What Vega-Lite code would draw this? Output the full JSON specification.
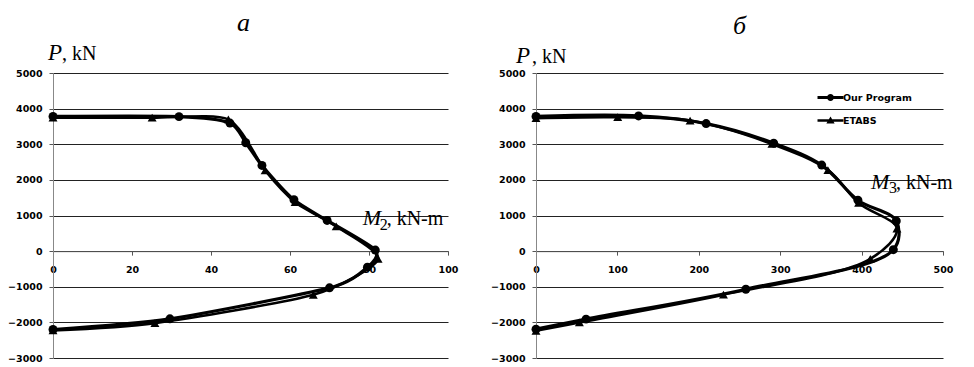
{
  "$schema": "https://vega.github.io/schema/vega-lite/v6.json",
  "background": "white",
  "padding": {"left": 7, "top": 10, "right": 5, "bottom": 5},
  "spacing": 88,
  "bounds": "flush",
  "datasets": {
    "a": [
      {"series": "Our Program", "i": 1, "M": 0, "P": 3780},
      {"series": "Our Program", "i": 2, "M": 31.9, "P": 3775},
      {"series": "Our Program", "i": 3, "M": 44.8, "P": 3595},
      {"series": "Our Program", "i": 4, "M": 48.8, "P": 3043},
      {"series": "Our Program", "i": 5, "M": 52.9, "P": 2406},
      {"series": "Our Program", "i": 6, "M": 61.0, "P": 1442},
      {"series": "Our Program", "i": 7, "M": 69.4, "P": 861},
      {"series": "Our Program", "i": 8, "M": 81.6, "P": 30},
      {"series": "Our Program", "i": 9, "M": 79.6, "P": -450},
      {"series": "Our Program", "i": 10, "M": 70.0, "P": -1030},
      {"series": "Our Program", "i": 11, "M": 29.6, "P": -1900},
      {"series": "Our Program", "i": 12, "M": 0, "P": -2200},
      {"series": "ETABS", "i": 1, "M": 0, "P": 3745},
      {"series": "ETABS", "i": 2, "M": 25.1, "P": 3745},
      {"series": "ETABS", "i": 3, "M": 44.4, "P": 3698},
      {"series": "ETABS", "i": 4, "M": 53.7, "P": 2266},
      {"series": "ETABS", "i": 5, "M": 61.3, "P": 1376},
      {"series": "ETABS", "i": 6, "M": 71.7, "P": 693},
      {"series": "ETABS", "i": 7, "M": 82.3, "P": -220},
      {"series": "ETABS", "i": 8, "M": 65.9, "P": -1226},
      {"series": "ETABS", "i": 9, "M": 25.8, "P": -2022},
      {"series": "ETABS", "i": 10, "M": 0, "P": -2228}
    ],
    "b": [
      {"series": "Our Program", "i": 1, "M": 0, "P": 3780},
      {"series": "Our Program", "i": 2, "M": 126, "P": 3795},
      {"series": "Our Program", "i": 3, "M": 209, "P": 3580},
      {"series": "Our Program", "i": 4, "M": 292, "P": 3030},
      {"series": "Our Program", "i": 5, "M": 351, "P": 2415},
      {"series": "Our Program", "i": 6, "M": 395.5, "P": 1430},
      {"series": "Our Program", "i": 7, "M": 442.6, "P": 846},
      {"series": "Our Program", "i": 8, "M": 439, "P": 40},
      {"series": "Our Program", "i": 9, "M": 257.8, "P": -1070},
      {"series": "Our Program", "i": 10, "M": 61.5, "P": -1908},
      {"series": "Our Program", "i": 11, "M": 0, "P": -2190},
      {"series": "ETABS", "i": 1, "M": 0, "P": 3731},
      {"series": "ETABS", "i": 2, "M": 100.4, "P": 3759},
      {"series": "ETABS", "i": 3, "M": 189.3, "P": 3665},
      {"series": "ETABS", "i": 4, "M": 289.8, "P": 3007},
      {"series": "ETABS", "i": 5, "M": 358.6, "P": 2274},
      {"series": "ETABS", "i": 6, "M": 396.3, "P": 1353},
      {"series": "ETABS", "i": 7, "M": 443.4, "P": 630},
      {"series": "ETABS", "i": 8, "M": 410.7, "P": -216},
      {"series": "ETABS", "i": 9, "M": 230.3, "P": -1222},
      {"series": "ETABS", "i": 10, "M": 53.3, "P": -2002},
      {"series": "ETABS", "i": 11, "M": 0, "P": -2237}
    ]
  },
  "hconcat": [
    {
      "width": 395,
      "height": 285,
      "title": {"text": "а", "font": "Liberation Serif", "fontStyle": "italic", "fontWeight": "normal", "fontSize": 26, "color": "black", "offset": 6, "dx": -7},
      "data": {"name": "a"},
      "layer": [
        {
          "transform": [{"filter": "datum.series === 'Our Program'"}],
          "mark": {"type": "line", "interpolate": "cardinal", "tension": 0.3, "color": "black", "strokeWidth": 3.2},
          "encoding": {
            "x": {"field": "M", "type": "quantitative", "scale": {"domain": [0, 100], "nice": false}, "title": null},
            "y": {"field": "P", "type": "quantitative", "scale": {"domain": [-3000, 5000], "nice": false}, "title": null},
            "order": {"field": "i"}
          }
        },
        {
          "transform": [{"filter": "datum.series === 'ETABS'"}],
          "mark": {"type": "line", "interpolate": "cardinal", "tension": 0.3, "color": "black", "strokeWidth": 2.6},
          "encoding": {
            "x": {"field": "M", "type": "quantitative", "title": null},
            "y": {"field": "P", "type": "quantitative", "title": null},
            "order": {"field": "i"}
          }
        },
        {
          "mark": {"type": "point", "filled": true, "color": "black", "opacity": 1},
          "encoding": {
            "x": {"field": "M", "type": "quantitative", "title": null},
            "y": {"field": "P", "type": "quantitative", "title": null},
            "shape": {"field": "series", "type": "nominal", "scale": {"domain": ["Our Program", "ETABS"], "range": ["circle", "triangle-up"]}, "legend": null},
            "size": {"value": 80}
          }
        },
        {
          "data": {"values": [{}]},
          "layer": [
            {"mark": {"type": "text", "text": "P", "font": "Liberation Serif", "fontStyle": "italic", "fontSize": 23, "align": "left", "baseline": "alphabetic", "dx": -5, "dy": -13, "color": "black"},
             "encoding": {"x": {"datum": 0, "type": "quantitative", "title": null}, "y": {"datum": 5000, "type": "quantitative", "title": null}}},
            {"mark": {"type": "text", "text": ", kN", "font": "Liberation Serif", "fontSize": 20, "align": "left", "baseline": "alphabetic", "dx": 9, "dy": -13, "color": "black"},
             "encoding": {"x": {"datum": 0, "type": "quantitative", "title": null}, "y": {"datum": 5000, "type": "quantitative", "title": null}}},
            {"mark": {"type": "text", "text": "M", "font": "Liberation Serif", "fontStyle": "italic", "fontSize": 22, "align": "left", "baseline": "alphabetic", "color": "black"},
             "encoding": {"x": {"datum": 78.4, "type": "quantitative", "title": null}, "y": {"datum": 740, "type": "quantitative", "title": null}}},
            {"mark": {"type": "text", "text": "2", "font": "Liberation Serif", "fontSize": 16, "align": "left", "baseline": "alphabetic", "dx": 17, "dy": 5, "color": "black"},
             "encoding": {"x": {"datum": 78.4, "type": "quantitative", "title": null}, "y": {"datum": 740, "type": "quantitative", "title": null}}},
            {"mark": {"type": "text", "text": ", kN-m", "font": "Liberation Serif", "fontSize": 20, "align": "left", "baseline": "alphabetic", "dx": 24, "color": "black"},
             "encoding": {"x": {"datum": 78.4, "type": "quantitative", "title": null}, "y": {"datum": 740, "type": "quantitative", "title": null}}}
          ]
        }
      ]
    },
    {
      "width": 407,
      "height": 285,
      "title": {"text": "б", "font": "Liberation Serif", "fontStyle": "italic", "fontWeight": "normal", "fontSize": 26, "color": "black", "offset": 6},
      "data": {"name": "b"},
      "layer": [
        {
          "transform": [{"filter": "datum.series === 'Our Program'"}],
          "mark": {"type": "line", "interpolate": "catmull-rom", "color": "black", "strokeWidth": 3.2},
          "encoding": {
            "x": {"field": "M", "type": "quantitative", "scale": {"domain": [0, 500], "nice": false}, "title": null},
            "y": {"field": "P", "type": "quantitative", "scale": {"domain": [-3000, 5000], "nice": false}, "title": null},
            "order": {"field": "i"}
          }
        },
        {
          "transform": [{"filter": "datum.series === 'ETABS'"}],
          "mark": {"type": "line", "interpolate": "catmull-rom", "color": "black", "strokeWidth": 2.6},
          "encoding": {
            "x": {"field": "M", "type": "quantitative", "title": null},
            "y": {"field": "P", "type": "quantitative", "title": null},
            "order": {"field": "i"}
          }
        },
        {
          "mark": {"type": "point", "filled": true, "color": "black", "opacity": 1},
          "encoding": {
            "x": {"field": "M", "type": "quantitative", "title": null},
            "y": {"field": "P", "type": "quantitative", "title": null},
            "shape": {"field": "series", "type": "nominal", "scale": {"domain": ["Our Program", "ETABS"], "range": ["circle", "triangle-up"]}, "legend": null},
            "size": {"value": 80}
          }
        },
        {
          "mark": {"type": "point", "filled": true, "color": "black", "opacity": 0},
          "encoding": {
            "x": {"field": "M", "type": "quantitative", "title": null},
            "y": {"field": "P", "type": "quantitative", "title": null},
            "shape": {"field": "series", "type": "nominal",
              "scale": {"domain": ["Our Program", "ETABS"], "range": ["M-1.13,-0.13H1.13V0.13H-1.13Z M0.3,0A0.3,0.3 0 1,1 -0.3,0A0.3,0.3 0 1,1 0.3,0Z", "M-1.13,-0.1H1.13V0.1H-1.13Z M0,-0.34L0.36,0.26H-0.36Z"]},
              "legend": {"orient": "none", "legendX": 283, "legendY": 13, "title": null, "labelFont": "DejaVu Sans", "labelFontWeight": "bold", "labelFontSize": 9.5, "labelColor": "black", "labelOffset": 1, "rowPadding": 7, "symbolSize": 529, "symbolOpacity": 1, "symbolFillColor": "black", "symbolStrokeColor": "black", "symbolStrokeWidth": 0}}
          }
        },
        {
          "data": {"values": [{}]},
          "layer": [
            {"mark": {"type": "text", "text": "P", "font": "Liberation Serif", "fontStyle": "italic", "fontSize": 23, "align": "left", "baseline": "alphabetic", "dx": -20, "dy": -10, "color": "black"},
             "encoding": {"x": {"datum": 0, "type": "quantitative", "title": null}, "y": {"datum": 5000, "type": "quantitative", "title": null}}},
            {"mark": {"type": "text", "text": ", kN", "font": "Liberation Serif", "fontSize": 20, "align": "left", "baseline": "alphabetic", "dx": -4, "dy": -10, "color": "black"},
             "encoding": {"x": {"datum": 0, "type": "quantitative", "title": null}, "y": {"datum": 5000, "type": "quantitative", "title": null}}},
            {"mark": {"type": "text", "text": "M", "font": "Liberation Serif", "fontStyle": "italic", "fontSize": 22, "align": "left", "baseline": "alphabetic", "color": "black"},
             "encoding": {"x": {"datum": 411.5, "type": "quantitative", "title": null}, "y": {"datum": 1753, "type": "quantitative", "title": null}}},
            {"mark": {"type": "text", "text": "3", "font": "Liberation Serif", "fontSize": 16, "align": "left", "baseline": "alphabetic", "dx": 18, "dy": 4, "color": "black"},
             "encoding": {"x": {"datum": 411.5, "type": "quantitative", "title": null}, "y": {"datum": 1753, "type": "quantitative", "title": null}}},
            {"mark": {"type": "text", "text": ", kN-m", "font": "Liberation Serif", "fontSize": 20, "align": "left", "baseline": "alphabetic", "dx": 25, "color": "black"},
             "encoding": {"x": {"datum": 411.5, "type": "quantitative", "title": null}, "y": {"datum": 1753, "type": "quantitative", "title": null}}}
          ]
        }
      ],
      "resolve": {"scale": {"shape": "independent"}, "legend": {"shape": "independent"}}
    }
  ],
  "resolve": {"scale": {"x": "independent", "y": "independent", "shape": "independent"}, "legend": {"shape": "independent"}},
  "config": {
    "view": {"stroke": null},
    "numberFormat": "d",
    "axis": {"labelFont": "DejaVu Sans", "labelFontWeight": "bold", "labelFontSize": 9.5, "labelColor": "black", "tickSize": 4, "tickColor": "#555", "labelFlush": false, "labelOverlap": false},
    "axisX": {"tickCount": 5, "offset": -106.875, "grid": false, "domainColor": "#555", "labelPadding": 9},
    "axisY": {"tickCount": 8, "grid": true, "gridColor": "#222", "gridWidth": 1, "domainColor": "#888", "labelPadding": 7}
  }
}
